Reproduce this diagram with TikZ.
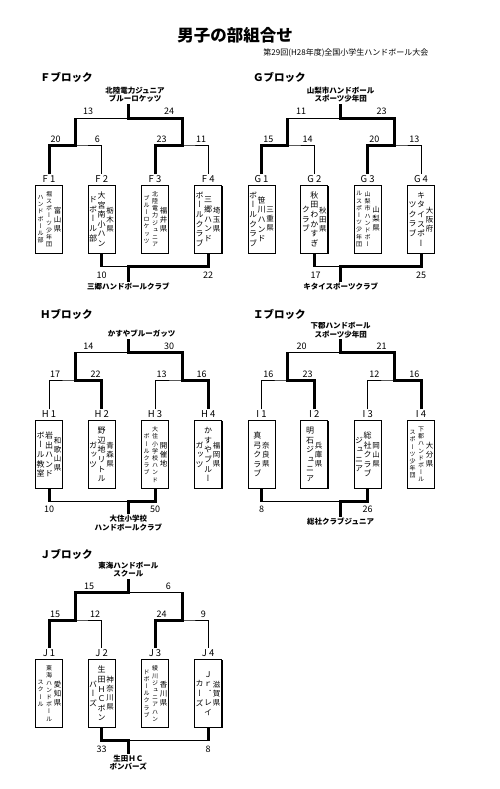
\documentclass[tikz,border=0pt]{standalone}
\usepackage{fontspec}
\setmainfont{Noto Sans CJK JP}
\newfontfamily\tatefont[RawFeature=+vert]{Noto Sans CJK JP}
\usetikzlibrary{positioning,shadows}

\ExplSyntaxOn
\NewDocumentCommand \tate { O{8} m }
  {
    \ensuremath
      {
        \vcenter
          {
            \tatefont \fontsize{#1}{#1} \selectfont
            \baselineskip = 1.2\dimexpr #1pt \relax
            \lineskiplimit = -20pt
            \tl_map_inline:nn {#2} { \hbox_to_wd:nn {8.5pt} { \hss ##1 \hss } }
          }
      }
  }
\ExplSyntaxOff

\begin{document}
\begin{tikzpicture}[x=1pt, y=-1pt,
  block/.style={anchor=west, inner sep=0pt, font=\bfseries\fontsize{10.5}{12}\selectfont},
  winner/.style={align=center, inner sep=1pt, font=\bfseries\fontsize{7.5}{8.5}\selectfont},
  tag/.style={inner sep=1pt, font=\fontsize{9.5}{10}\selectfont},
  score/.style={inner sep=0pt, font=\fontsize{9}{10}\selectfont},
  team/.style={draw, line width=0.7pt, fill=white, inner sep=0pt, minimum width=27pt, minimum height=68pt,
    general shadow={fill=black, shadow xshift=0.8pt, shadow yshift=-0.8pt}},
  lost/.style={line width=0.9pt},
  won/.style={line width=3pt}]
\useasboundingbox (0,0) rectangle (500,789);
\node[font=\bfseries\fontsize{16.5}{18}\selectfont] (title) at (235,35) {男子の部組合せ};
\node[anchor=east, font=\fontsize{8}{9}\selectfont] (subtitle) at (432,53.3) {第29回(H28年度)全国小学生ハンドボール大会};

% F
\node[block] (ftitle) at (40,77) {Ｆブロック};
\node[winner] (fwin) at (135,94.5) {北陸電力ジュニア\\ブルーロケッツ};
\node[tag] (f1t) at (49,179) {F 1};
\node[tag] (f2t) at (101.7,179) {F 2};
\node[tag] (f3t) at (155,179) {F 3};
\node[tag] (f4t) at (208.2,179) {F 4};
\node[team] (f1) at (49,219.2) {\tate[6]{ハンドボール部}\tate[6]{堀スポーツ少年団}\tate[7.5]{富山県}};
\node[team] (f2) at (101.7,219.2) {\tate{ドボール部}\tate{大宮南小ハン}\tate[7.5]{栃木県}};
\node[team] (f3) at (155,219.2) {\tate[6]{ブルーロケッツ}\tate[6]{北陸電力ジュニア}\tate[7.5]{福井県}};
\node[team] (f4) at (208.2,219.2) {\tate{ボールクラブ}\tate{三郷ハンド}\tate[7.5]{埼玉県}};
\node[winner] (flast) at (128.3,286.7) {三郷ハンドボールクラブ};
\coordinate (fL) at (75,145); \coordinate (fR) at (182.5,145);
\coordinate (fa) at (75,118.3); \coordinate (fb) at (182.5,118.3);
\coordinate (fs) at (128.3,118.3); \coordinate (fx) at (128.3,266.7);
\draw[lost] (f1t.north) |- (fL) -| (f2t.north);
\draw[lost] (f3t.north) |- (fR) -| (f4t.north);
\draw[lost] (fL) -- (fa) -- (fb) -- (fR);
\draw[won] (f1t.north) |- (fL) -- (fa);
\draw[won] (f3t.north) |- (fR) -- (fb) -- (fs) -- (fs |- fwin.south);
\draw[lost] (f2.south |- fx) -- (fx);
\draw[won] (f2.south) -- (f2.south |- fx);
\draw[won] (f4.south) |- (fx) -- (flast.north);
\node[score] (fn1) at (88,111.7) {13};
\node[score] (fn2) at (169,111.7) {24};
\node[score] (fn3) at (55.7,139.3) {20};
\node[score] (fn4) at (97.3,139.3) {6};
\node[score] (fn5) at (161.7,139.3) {23};
\node[score] (fn6) at (201,139.3) {11};
\node[score] (fn7) at (101.7,275) {10};
\node[score] (fn8) at (208.2,275) {22};

% G
\node[block] (gtitle) at (253,77) {Ｇブロック};
\node[winner] (gwin) at (340.7,94.5) {山梨市ハンドボール\\スポーツ少年団};
\node[tag] (g1t) at (261.5,179) {G 1};
\node[tag] (g2t) at (314.3,179) {G 2};
\node[tag] (g3t) at (367.7,179) {G 3};
\node[tag] (g4t) at (421,179) {G 4};
\node[team] (g1) at (261.5,219.2) {\tate{ボールクラブ}\tate{笹川ハンド}\tate[7.5]{三重県}};
\node[team] (g2) at (314.3,219.2) {\tate{クラブ}\tate{秋田わかすぎ}\tate[7.5]{秋田県}};
\node[team] (g3) at (367.7,219.2) {\tate[6]{ルスポーツ少年団}\tate[6]{山梨市ハンドボー}\tate[7.5]{山梨県}};
\node[team] (g4) at (421,219.2) {\tate{ツクラブ}\tate{キタイスポー}\tate[7.5]{大阪府}};
\node[winner] (glast) at (340.7,286.7) {キタイスポーツクラブ};
\coordinate (gL) at (287.7,145); \coordinate (gR) at (394.3,145);
\coordinate (ga) at (287.7,118.3); \coordinate (gb) at (394.3,118.3);
\coordinate (gs) at (340.7,118.3); \coordinate (gx) at (340.7,266.7);
\draw[lost] (g1t.north) |- (gL) -| (g2t.north);
\draw[lost] (g3t.north) |- (gR) -| (g4t.north);
\draw[lost] (gL) -- (ga) -- (gb) -- (gR);
\draw[won] (g1t.north) |- (gL) -- (ga);
\draw[won] (g3t.north) |- (gR) -- (gb) -- (gs) -- (gs |- gwin.south);
\draw[lost] (g2.south |- gx) -- (gx);
\draw[won] (g2.south) -- (g2.south |- gx);
\draw[won] (g4.south) |- (gx) -- (glast.north);
\node[score] (gn1) at (301,111.7) {11};
\node[score] (gn2) at (381.7,111.7) {23};
\node[score] (gn3) at (268.3,139.3) {15};
\node[score] (gn4) at (307.7,139.3) {14};
\node[score] (gn5) at (374.3,139.3) {20};
\node[score] (gn6) at (414.3,139.3) {13};
\node[score] (gn7) at (315.7,275) {17};
\node[score] (gn8) at (421,275) {25};

% H
\node[block] (htitle) at (40,314) {Ｈブロック};
\node[winner] (hwin) at (141.7,334) {かすやブルーガッツ};
\node[tag] (h1t) at (49,414) {H 1};
\node[tag] (h2t) at (101.7,414) {H 2};
\node[tag] (h3t) at (155,414) {H 3};
\node[tag] (h4t) at (208.2,414) {H 4};
\node[team] (h1) at (49,454.5) {\tate{ボール教室}\tate{岩出ハンド}\tate[7.5]{和歌山県}};
\node[team] (h2) at (101.7,454.5) {\tate{ガッツ}\tate{野辺地リトル}\tate[7.5]{青森県}};
\node[team] (h3) at (155,454.5) {\tate[6]{ボールクラブ}\tate[6]{大住小学校ハンド}\tate[7.5]{開催地}};
\node[team] (h4) at (208.2,454.5) {\tate{ガッツ}\tate{かすやブルー}\tate[7.5]{福岡県}};
\node[winner] (hlast) at (128.3,523.3) {大住小学校\\ハンドボールクラブ};
\coordinate (hL) at (75,380); \coordinate (hR) at (182.5,380);
\coordinate (ha) at (75,352.3); \coordinate (hb) at (182.5,352.3);
\coordinate (hs) at (128.3,352.3); \coordinate (hx) at (128.3,501.7);
\draw[lost] (h1t.north) |- (hL) -| (h2t.north);
\draw[lost] (h3t.north) |- (hR) -| (h4t.north);
\draw[lost] (hL) -- (ha) -- (hb) -- (hR);
\draw[won] (h2t.north) |- (hL) -- (ha);
\draw[won] (h4t.north) |- (hR) -- (hb) -- (hs) -- (hs |- hwin.south);
\draw[lost] (h1.south |- hx) -- (hx);
\draw[won] (h1.south) -- (h1.south |- hx);
\draw[won] (h3.south) |- (hx) -- (hlast.north);
\node[score] (hn1) at (88.3,346.7) {14};
\node[score] (hn2) at (169,346.7) {30};
\node[score] (hn3) at (55,374) {17};
\node[score] (hn4) at (95.7,374) {22};
\node[score] (hn5) at (161.7,374) {13};
\node[score] (hn6) at (201.7,374) {16};
\node[score] (hn7) at (49,509) {10};
\node[score] (hn8) at (155,509) {50};

% I
\node[block] (ititle) at (253,314) {Ｉブロック};
\node[winner] (iwin) at (340.7,330) {下郡ハンドボール\\スポーツ少年団};
\node[tag] (i1t) at (261.5,414) {I 1};
\node[tag] (i2t) at (314.3,414) {I 2};
\node[tag] (i3t) at (367.7,414) {I 3};
\node[tag] (i4t) at (421,414) {I 4};
\node[team] (i1) at (261.5,454.5) {\tate{真弓クラブ}\tate[7.5]{奈良県}};
\node[team] (i2) at (314.3,454.5) {\tate{明石ジュニア}\tate[7.5]{兵庫県}};
\node[team] (i3) at (367.7,454.5) {\tate{ジュニア}\tate{総社クラブ}\tate[7.5]{岡山県}};
\node[team] (i4) at (421,454.5) {\tate[6]{スポーツ少年団}\tate[6]{下郡ハンドボール}\tate[7.5]{大分県}};
\node[winner] (ilast) at (340.7,521.7) {総社クラブジュニア};
\coordinate (iL) at (287.7,380); \coordinate (iR) at (394.3,380);
\coordinate (ia) at (287.7,352.3); \coordinate (ib) at (394.3,352.3);
\coordinate (is) at (340.7,352.3); \coordinate (ix) at (340.7,501.7);
\draw[lost] (i1t.north) |- (iL) -| (i2t.north);
\draw[lost] (i3t.north) |- (iR) -| (i4t.north);
\draw[lost] (iL) -- (ia) -- (ib) -- (iR);
\draw[won] (i2t.north) |- (iL) -- (ia);
\draw[won] (i4t.north) |- (iR) -- (ib) -- (is) -- (is |- iwin.south);
\draw[lost] (i1.south |- ix) -- (ix);
\draw[won] (i1.south) -- (i1.south |- ix);
\draw[won] (i3.south) |- (ix) -- (ilast.north);
\node[score] (in1) at (301.7,346.7) {20};
\node[score] (in2) at (381.7,346.7) {21};
\node[score] (in3) at (268.3,374) {16};
\node[score] (in4) at (307.7,374) {23};
\node[score] (in5) at (374.3,374) {12};
\node[score] (in6) at (414.3,374) {16};
\node[score] (in7) at (261.5,509) {8};
\node[score] (in8) at (367.7,509) {26};

% J
\node[block] (jtitle) at (40,554) {Ｊブロック};
\node[winner] (jwin) at (128.3,569.8) {東海ハンドボール\\スクール};
\node[tag] (j1t) at (49,652.7) {J 1};
\node[tag] (j2t) at (101.7,652.7) {J 2};
\node[tag] (j3t) at (155,652.7) {J 3};
\node[tag] (j4t) at (208.2,652.7) {J 4};
\node[team] (j1) at (49,693.5) {\tate[6]{スクール}\tate[6]{東海ハンドボール}\tate[7.5]{愛知県}};
\node[team] (j2) at (101.7,693.5) {\tate{バーズ}\tate{生田ＨＣボン}\tate[7.5]{神奈川県}};
\node[team] (j3) at (155,693.5) {\tate[6]{ドボールクラブ}\tate[6]{綾川ジュニアハン}\tate[7.5]{香川県}};
\node[team] (j4) at (208.2,693.5) {\tate{カーズ}\tate{Ｊｒ．レイ}\tate[7.5]{滋賀県}};
\node[winner] (jlast) at (128.3,762.5) {生田ＨＣ\\ボンバーズ};
\coordinate (jL) at (75,620); \coordinate (jR) at (182.5,620);
\coordinate (ja) at (75,592.3); \coordinate (jb) at (182.5,592.3);
\coordinate (js) at (128.3,592.3); \coordinate (jx) at (128.3,740.7);
\draw[lost] (j1t.north) |- (jL) -| (j2t.north);
\draw[lost] (j3t.north) |- (jR) -| (j4t.north);
\draw[lost] (jL) -- (ja) -- (jb) -- (jR);
\draw[won] (j3t.north) |- (jR) -- (jb);
\draw[won] (j1t.north) |- (jL) -- (ja) -- (js) -- (js |- jwin.south);
\draw[lost] (j4.south |- jx) -- (jx);
\draw[won] (j4.south) -- (j4.south |- jx);
\draw[won] (j2.south) |- (jx) -- (jlast.north);
\node[score] (jn1) at (89,586.7) {15};
\node[score] (jn2) at (168.3,586.7) {6};
\node[score] (jn3) at (55,614) {15};
\node[score] (jn4) at (95,614) {12};
\node[score] (jn5) at (161.7,614) {24};
\node[score] (jn6) at (203.3,614) {9};
\node[score] (jn7) at (101.7,749) {33};
\node[score] (jn8) at (208.2,749) {8};
\end{tikzpicture}
\end{document}
